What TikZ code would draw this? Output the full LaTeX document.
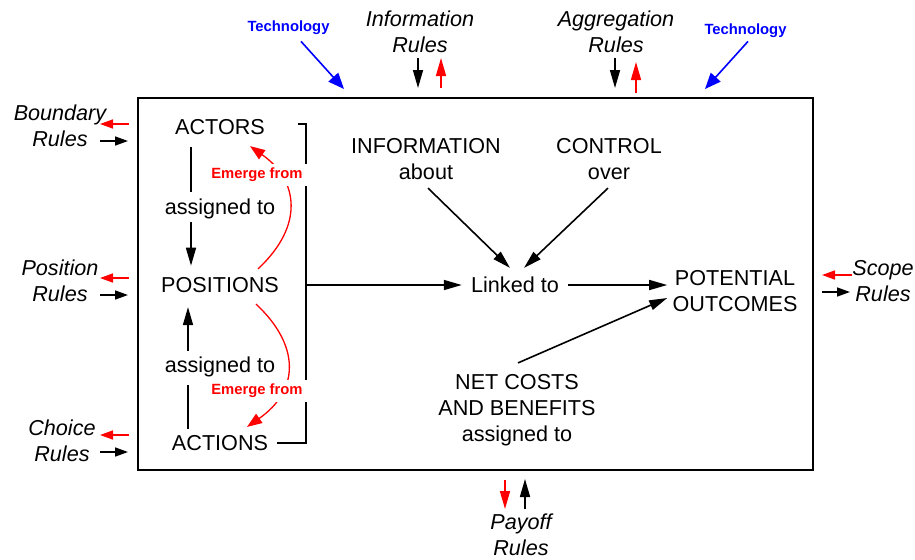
\documentclass[tikz,border=0pt]{standalone}
\usepackage{fontspec}
\setmainfont{Liberation Sans}
\usetikzlibrary{arrows.meta}

\tikzset{
  txt/.style={inner sep=0pt, align=center, font=\fontsize{10.8}{13}\selectfont, text height=7.7pt, text depth=0pt},
  rulelbl/.style={inner sep=0pt, align=center, font=\fontsize{10.8}{13}\selectfont\itshape, text height=20.7pt, text depth=0pt},
  twolines/.style={text height=20.7pt},
  threelines/.style={text height=33.7pt},
  tech/.style={inner sep=0pt, text=blue, font=\fontsize{7.4}{9}\selectfont\bfseries, text height=5.3pt, text depth=0pt},
  emerge/.style={inner sep=2pt, fill=white, text=red, font=\fontsize{7.4}{9}\selectfont\bfseries, text height=5.3pt, text depth=1.5pt},
  arr/.style={line width=0.8pt, -{Triangle[length=9pt,width=5pt]}},
  sidearr/.style={line width=0.8pt, -{Triangle[length=6.5pt,width=4.5pt]}},
  redcurve/.style={line width=0.65pt, red, -{Triangle[length=7.5pt,width=5.5pt]}},
  techarr/.style={line width=0.8pt, blue, -{Triangle[length=8pt,width=6.5pt]}},
}

\begin{document}
\begin{tikzpicture}[x=0.5pt, y=-0.5pt]
  \useasboundingbox (0,0) rectangle (915,559);

  % main frame
  \node [draw, line width=1pt, inner sep=0pt, minimum width=337.5pt, minimum height=186pt] (frame) at (475.5,284) {};

  % actors / positions / actions
  \node [txt] (act) at (220,127) {ACTORS};
  \node [txt] (asgA) at (220,207) {assigned to};
  \node [txt] (pos) at (220,285) {POSITIONS};
  \node [txt] (asgB) at (220,365) {assigned to};
  \node [txt] (acts) at (220,443) {ACTIONS};

  \draw [line width=0.8pt, shorten <=6pt, shorten >=3.5pt] ([xshift=-14.5pt]act.south) -- ([xshift=-14.5pt]asgA.north);
  \draw [arr, shorten <=3.6pt, shorten >=5.6pt] ([xshift=-14.5pt]asgA.south) -- ([xshift=-14.5pt]pos.north);
  \draw [arr, shorten <=3pt, shorten >=7pt] ([xshift=-16pt]asgB.north) -- ([xshift=-16pt]pos.south);
  \draw [line width=0.8pt, shorten <=6pt, shorten >=3pt] ([xshift=-16pt]asgB.south) -- ([xshift=-16pt]acts.north);

  \coordinate (brk) at (306,285);
  \draw [line width=0.8pt] ([xshift=16.5pt,yshift=1.5pt]act.east) -| (brk) |- ([xshift=4.5pt]acts.east);

  % emerge from
  \draw [redcurve] ([xshift=19pt,yshift=4pt]pos.north) .. controls (305,225) and (298,180) .. ([xshift=15pt,yshift=-5.5pt]act.south);
  \node [emerge] (emA) at (257,175) {Emerge from};
  \draw [redcurve] ([xshift=18pt,yshift=-5.5pt]pos.south) .. controls (300,345) and (300,390) .. ([xshift=13.5pt,yshift=4pt]acts.north);
  \node [emerge] (emB) at (257,391) {Emerge from};

  % middle of the frame
  \node [txt, twolines] (info) at (426,159) {INFORMATION\\about};
  \node [txt, twolines] (ctrl) at (609,159) {CONTROL\\over};
  \node [txt] (link) at (515,285) {Linked to};
  \node [txt, twolines] (outc) at (735,291) {POTENTIAL\\OUTCOMES};
  \node [txt, threelines] (net) at (517,408) {NET COSTS\\AND BENEFITS\\assigned to};

  \draw [arr, shorten >=4.5pt] (brk) -- (link.west);
  \draw [arr, shorten <=4.5pt, shorten >=2.5pt] (link.east) -- (link.east -| outc.west);
  \draw [arr] ([xshift=1pt,yshift=-4pt]info.south) -- ([xshift=-2.5pt,yshift=4.5pt]link.north);
  \draw [arr] ([xshift=-0.5pt,yshift=-4pt]ctrl.south) -- ([xshift=4.5pt,yshift=4.5pt]link.north);
  \draw [arr] ([xshift=0.5pt,yshift=5.5pt]net.north) -- ([xshift=-2.5pt,yshift=-3.5pt]outc.west);

  % rules
  \node [rulelbl] (bnd) at (60,126) {Boundary\\Rules};
  \node [rulelbl] (posr) at (60,281) {Position\\Rules};
  \node [rulelbl] (chc) at (62,441) {Choice\\Rules};
  \node [rulelbl] (scp) at (883,281) {Scope\\Rules};
  \node [rulelbl] (infr) at (420,32) {Information\\Rules};
  \node [rulelbl] (aggr) at (616,32) {Aggregation\\Rules};
  \node [rulelbl] (pay) at (521,535) {Payoff\\Rules};

  \coordinate (bndR) at (129,124); \coordinate (bndB) at (100,141);
  \coordinate (posrR) at (129,278); \coordinate (posrB) at (100,295);
  \coordinate (chcR) at (129,435); \coordinate (chcB) at (100,452);
  \coordinate (scpR) at (852,275); \coordinate (scpB) at (822,292);
  \coordinate (infrB) at (418,58); \coordinate (infrR) at (441,88);
  \coordinate (aggrB) at (615,58); \coordinate (aggrR) at (636,93);
  \coordinate (payR) at (505,480); \coordinate (payB) at (525,509);

  \draw [sidearr, red] (bndR) -- ++(-29,0);
  \draw [sidearr] (bndB) -- ++(28,0);
  \draw [sidearr, red] (posrR) -- ++(-29,0);
  \draw [sidearr] (posrB) -- ++(28,0);
  \draw [sidearr, red] (chcR) -- ++(-29,0);
  \draw [sidearr] (chcB) -- ++(28,0);
  \draw [sidearr, red] (scpR) -- ++(-30,0);
  \draw [sidearr] (scpB) -- ++(28,0);
  \draw [arr] (infrB) -- ++(0,30);
  \draw [arr, red] (infrR) -- ++(0,-30);
  \draw [arr] (aggrB) -- ++(0,30);
  \draw [arr, red] (aggrR) -- ++(0,-31);
  \draw [arr, red] (payR) -- ++(0,29);
  \draw [arr] (payB) -- ++(0,-30);

  % technology
  \node [tech] (techA) at (288.5,26) {Technology};
  \node [tech] (techB) at (745.5,29) {Technology};
  \coordinate (techAend) at (344,89);
  \coordinate (techBend) at (705,89);
  \draw [techarr] ([xshift=6.25pt,yshift=-4.85pt]techA.south) -- (techAend);
  \draw [techarr] ([xshift=1.25pt,yshift=-3.35pt]techB.south) -- (techBend);
\end{tikzpicture}
\end{document}
